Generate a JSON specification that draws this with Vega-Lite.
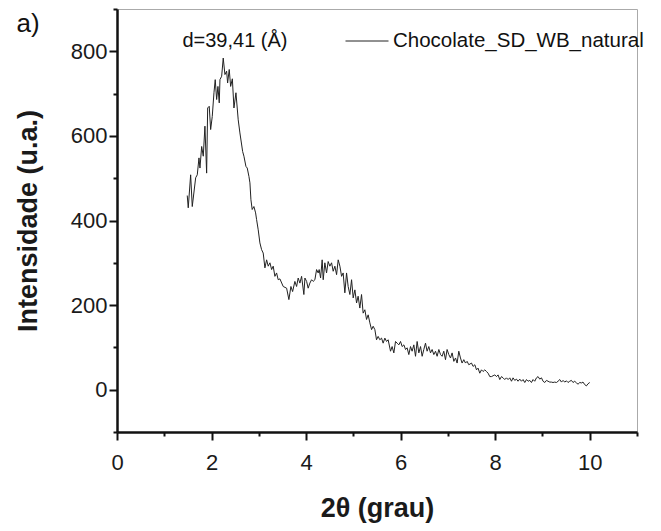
{
  "$schema": "https://vega.github.io/schema/vega-lite/v6.json",
  "width": 520,
  "height": 423,
  "autosize": {"type": "none"},
  "padding": {"left": 117, "top": 9, "right": 24, "bottom": 99},
  "config": {"view": {"stroke": "#aaaaaa", "strokeWidth": 1}, "font": "Liberation Sans"},
  "datasets": {
    "xrd": [
      {"x":1.486,"y":459},{"x":1.507,"y":430},{"x":1.558,"y":508},{"x":1.592,"y":433},{"x":1.664,"y":501},{"x":1.698,"y":508},{"x":1.734,"y":548},{"x":1.755,"y":524},{"x":1.791,"y":575},{"x":1.825,"y":552},{"x":1.860,"y":623},{"x":1.896,"y":512},{"x":1.918,"y":666},{"x":1.951,"y":670},{"x":1.981,"y":615},{"x":2.015,"y":646},{"x":2.051,"y":702},{"x":2.078,"y":733},{"x":2.108,"y":686},{"x":2.135,"y":717},{"x":2.163,"y":678},{"x":2.178,"y":733},{"x":2.214,"y":741},{"x":2.247,"y":784},{"x":2.283,"y":745},{"x":2.319,"y":753},{"x":2.340,"y":725},{"x":2.374,"y":757},{"x":2.404,"y":717},{"x":2.440,"y":735},
      {"x":2.474,"y":666},{"x":2.516,"y":702},{"x":2.564,"y":638},{"x":2.600,"y":607},{"x":2.658,"y":563},{"x":2.685,"y":552},{"x":2.727,"y":528},{"x":2.755,"y":524},{"x":2.791,"y":504},{"x":2.812,"y":489},{"x":2.833,"y":449},{"x":2.860,"y":426},{"x":2.896,"y":433},{"x":2.932,"y":418},{"x":2.953,"y":402},{"x":2.987,"y":378},{"x":3.023,"y":347},{"x":3.059,"y":331},{"x":3.093,"y":323},{"x":3.129,"y":288},{"x":3.165,"y":307},{"x":3.199,"y":292},{"x":3.235,"y":300},{"x":3.271,"y":284},{"x":3.304,"y":292},{"x":3.340,"y":268},{"x":3.376,"y":276},{"x":3.410,"y":260},
      {"x":3.446,"y":262},{"x":3.516,"y":244},{"x":3.588,"y":240},{"x":3.636,"y":213},{"x":3.679,"y":244},{"x":3.715,"y":232},{"x":3.763,"y":256},{"x":3.799,"y":244},{"x":3.833,"y":264},{"x":3.869,"y":252},{"x":3.905,"y":268},{"x":3.953,"y":225},{"x":3.975,"y":264},{"x":4.011,"y":256},{"x":4.044,"y":240},{"x":4.080,"y":252},{"x":4.116,"y":260},{"x":4.150,"y":256},{"x":4.186,"y":260},{"x":4.222,"y":284},{"x":4.256,"y":276},{"x":4.277,"y":284},{"x":4.307,"y":264},{"x":4.340,"y":307},{"x":4.362,"y":260},{"x":4.397,"y":300},{"x":4.433,"y":276},{"x":4.467,"y":303},{"x":4.503,"y":292},{"x":4.539,"y":300},{"x":4.573,"y":280},{"x":4.609,"y":292},{"x":4.645,"y":272},{"x":4.679,"y":307},{"x":4.715,"y":292},{"x":4.751,"y":268},{"x":4.784,"y":276},{"x":4.820,"y":229},{"x":4.856,"y":276},{"x":4.890,"y":244},{"x":4.926,"y":225},{"x":4.962,"y":260},{"x":4.996,"y":217},{"x":5.032,"y":236},{"x":5.068,"y":205},{"x":5.101,"y":221},{"x":5.137,"y":193},{"x":5.173,"y":225},{"x":5.207,"y":181},{"x":5.243,"y":189},{"x":5.279,"y":166},{"x":5.313,"y":177},
      {"x":5.349,"y":158},{"x":5.385,"y":142},{"x":5.419,"y":150},{"x":5.455,"y":142},{"x":5.490,"y":118},{"x":5.524,"y":126},{"x":5.560,"y":118},{"x":5.596,"y":122},{"x":5.630,"y":110},{"x":5.666,"y":122},{"x":5.702,"y":114},{"x":5.736,"y":118},{"x":5.786,"y":91},{"x":5.820,"y":102},{"x":5.856,"y":87},{"x":5.892,"y":114},{"x":5.926,"y":110},{"x":5.962,"y":106},{"x":5.998,"y":114},{"x":6.032,"y":102},{"x":6.068,"y":106},{"x":6.104,"y":95},{"x":6.137,"y":99},{"x":6.173,"y":83},{"x":6.209,"y":102},{"x":6.243,"y":91},{"x":6.279,"y":106},{"x":6.315,"y":79},{"x":6.349,"y":114},{"x":6.385,"y":87},{"x":6.421,"y":102},{"x":6.455,"y":79},{"x":6.490,"y":95},{"x":6.526,"y":110},{"x":6.560,"y":91},{"x":6.596,"y":102},{"x":6.632,"y":87},{"x":6.666,"y":95},{"x":6.702,"y":83},{"x":6.738,"y":91},{"x":6.772,"y":79},{"x":6.808,"y":95},{"x":6.844,"y":83},{"x":6.877,"y":79},{"x":6.913,"y":91},{"x":6.949,"y":71},{"x":6.983,"y":95},{"x":7.019,"y":83},{"x":7.055,"y":75},{"x":7.089,"y":87},{"x":7.125,"y":67},{"x":7.161,"y":75},{"x":7.195,"y":63},{"x":7.230,"y":91},{"x":7.266,"y":75},{"x":7.300,"y":63},{"x":7.336,"y":71},{"x":7.372,"y":63},{"x":7.406,"y":67},{"x":7.442,"y":59},
      {"x":7.499,"y":63},{"x":7.533,"y":55},{"x":7.569,"y":59},{"x":7.605,"y":47},{"x":7.638,"y":51},{"x":7.674,"y":39},{"x":7.710,"y":47},{"x":7.744,"y":43},{"x":7.780,"y":47},{"x":7.816,"y":43},{"x":7.850,"y":39},{"x":7.886,"y":31},{"x":7.922,"y":31},{"x":7.956,"y":33},{"x":7.992,"y":35},{"x":8.027,"y":31},{"x":8.061,"y":35},{"x":8.097,"y":24},{"x":8.133,"y":31},{"x":8.167,"y":28},{"x":8.203,"y":24},{"x":8.239,"y":28},{"x":8.273,"y":24},{"x":8.309,"y":28},{"x":8.345,"y":20},{"x":8.378,"y":28},{"x":8.414,"y":22},{"x":8.450,"y":25},{"x":8.484,"y":20},{"x":8.520,"y":25},{"x":8.556,"y":20},{"x":8.590,"y":24},{"x":8.626,"y":17},{"x":8.662,"y":24},{"x":8.696,"y":20},{"x":8.732,"y":22},{"x":8.767,"y":17},{"x":8.801,"y":24},{"x":8.837,"y":20},{"x":8.873,"y":28},{"x":8.907,"y":31},{"x":8.943,"y":25},{"x":8.979,"y":28},{"x":9.013,"y":20},{"x":9.049,"y":17},{"x":9.085,"y":22},{"x":9.118,"y":20},{"x":9.154,"y":18},{"x":9.190,"y":18},{"x":9.224,"y":17},{"x":9.260,"y":18},{"x":9.296,"y":17},{"x":9.330,"y":20},{"x":9.366,"y":24},{"x":9.402,"y":18},{"x":9.436,"y":22},{"x":9.471,"y":18},{"x":9.507,"y":21},{"x":9.541,"y":17},{"x":9.577,"y":20},{"x":9.613,"y":22},{"x":9.647,"y":17},{"x":9.683,"y":20},{"x":9.719,"y":16},{"x":9.753,"y":13},{"x":9.789,"y":17},{"x":9.825,"y":16},{"x":9.858,"y":18},{"x":9.894,"y":12},{"x":9.930,"y":9},{"x":9.964,"y":14},{"x":10.0,"y":17}
    ],
    "peak": [{"x": 2.495, "y": 825, "label": "d=39,41 (Å)"}],
    "panel": [{"x": -1.88, "y": 865, "label": "a)"}]
  },
  "encoding": {
    "x": {
      "field": "x", "type": "quantitative",
      "scale": {"domain": [0, 11], "nice": false, "zero": false},
      "axis": {
        "values": [0,1,2,3,4,5,6,7,8,9,10,11],
        "labelExpr": "datum.value % 2 === 0 ? datum.label : ''",
        "title": "2θ (grau)",
        "grid": false,
        "domainColor": "#111111", "domainWidth": 2.5,
        "tickColor": "#111111", "tickWidth": 2,
        "tickSize": {"condition": {"test": "datum.value % 2 === 1", "value": 4}, "value": 8},
        "labelFontSize": 22, "labelColor": "#1a1a1a", "labelPadding": 12,
        "labelFlush": false, "labelOverlap": false,
        "titleFontSize": 27, "titleFontWeight": "bold", "titleColor": "#1a1a1a", "titlePadding": 22
      }
    },
    "y": {
      "field": "y", "type": "quantitative",
      "scale": {"domain": [-100, 900], "nice": false, "zero": false},
      "axis": {
        "values": [-100,0,100,200,300,400,500,600,700,800,900],
        "labelExpr": "datum.value % 200 === 0 ? datum.label : ''",
        "title": "Intensidade (u.a.)",
        "grid": false,
        "domainColor": "#111111", "domainWidth": 2.5,
        "tickColor": "#111111", "tickWidth": 2,
        "tickSize": {"condition": {"test": "datum.value % 200 !== 0", "value": 4}, "value": 8},
        "labelFontSize": 22, "labelColor": "#1a1a1a", "labelPadding": 2,
        "labelFlush": false, "labelOverlap": false,
        "titleFontSize": 27, "titleFontWeight": "bold", "titleColor": "#1a1a1a", "titlePadding": 28
      }
    }
  },
  "layer": [
    {
      "data": {"name": "xrd"},
      "mark": {"type": "line", "strokeWidth": 1, "interpolate": "linear"},
      "encoding": {
        "color": {
          "datum": "Chocolate_SD_WB_natural", "type": "nominal",
          "scale": {"range": ["#222222"]},
          "legend": {
            "title": null, "orient": "none", "legendX": 228, "legendY": 10,
            "symbolType": "stroke", "symbolSize": 1849, "symbolStrokeWidth": 1,
            "labelFontSize": 20.5, "labelOffset": 4, "labelColor": "#111111",
            "labelLimit": 400, "padding": 0
          }
        }
      }
    },
    {
      "data": {"name": "peak"},
      "mark": {"type": "text", "fontSize": 20, "color": "#111111", "align": "center", "baseline": "middle"},
      "encoding": {"text": {"field": "label"}}
    },
    {
      "data": {"name": "panel"},
      "mark": {"type": "text", "fontSize": 26, "color": "#111111", "align": "center", "baseline": "middle"},
      "encoding": {"text": {"field": "label"}}
    }
  ]
}
